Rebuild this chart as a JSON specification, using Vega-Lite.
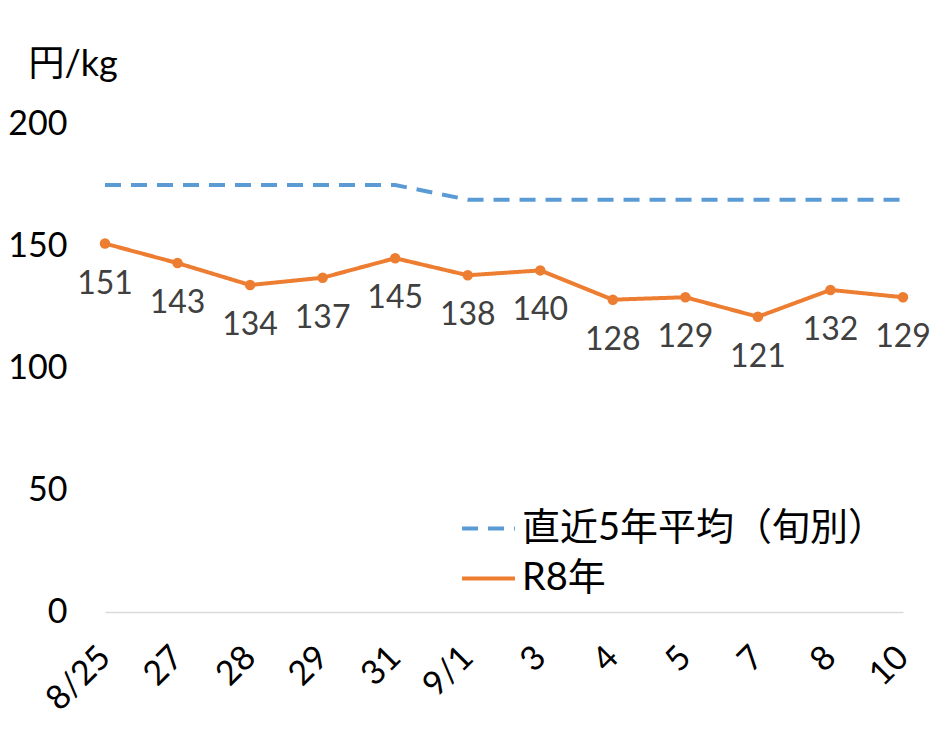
{
  "$schema": "https://vega.github.io/schema/vega-lite/v6.json",
  "autosize": "none",
  "width": 798,
  "height": 488,
  "padding": {"left": 105, "top": 124, "right": 46, "bottom": 124},
  "background": "white",
  "data": {
    "values": [
      {"date": "8/25", "series": "直近5年平均（旬別）", "value": 175},
      {"date": "27", "series": "直近5年平均（旬別）", "value": 175},
      {"date": "28", "series": "直近5年平均（旬別）", "value": 175},
      {"date": "29", "series": "直近5年平均（旬別）", "value": 175},
      {"date": "31", "series": "直近5年平均（旬別）", "value": 175},
      {"date": "9/1", "series": "直近5年平均（旬別）", "value": 169},
      {"date": "3", "series": "直近5年平均（旬別）", "value": 169},
      {"date": "4", "series": "直近5年平均（旬別）", "value": 169},
      {"date": "5", "series": "直近5年平均（旬別）", "value": 169},
      {"date": "7", "series": "直近5年平均（旬別）", "value": 169},
      {"date": "8", "series": "直近5年平均（旬別）", "value": 169},
      {"date": "10", "series": "直近5年平均（旬別）", "value": 169},
      {"date": "8/25", "series": "R8年", "value": 151},
      {"date": "27", "series": "R8年", "value": 143},
      {"date": "28", "series": "R8年", "value": 134},
      {"date": "29", "series": "R8年", "value": 137},
      {"date": "31", "series": "R8年", "value": 145},
      {"date": "9/1", "series": "R8年", "value": 138},
      {"date": "3", "series": "R8年", "value": 140},
      {"date": "4", "series": "R8年", "value": 128},
      {"date": "5", "series": "R8年", "value": 129},
      {"date": "7", "series": "R8年", "value": 121},
      {"date": "8", "series": "R8年", "value": 132},
      {"date": "10", "series": "R8年", "value": 129}
    ]
  },
  "encoding": {
    "x": {
      "field": "date",
      "type": "ordinal",
      "sort": null,
      "scale": {"type": "point", "padding": 0},
      "axis": {
        "title": null,
        "labelAngle": -45,
        "labelAlign": "right",
        "labelBaseline": "middle",
        "labelPadding": 40,
        "labelFontSize": 34,
        "labelColor": "#000000",
        "ticks": false,
        "domainColor": "#D9D9D9",
        "domainWidth": 1.5
      }
    },
    "y": {
      "field": "value",
      "type": "quantitative",
      "scale": {"domain": [0, 200]},
      "axis": {
        "values": [0, 50, 100, 150, 200],
        "title": "円/kg",
        "titleAngle": 0,
        "titleX": -77,
        "titleY": -60,
        "titleAlign": "left",
        "titleBaseline": "middle",
        "titleFontSize": 36,
        "titleFontWeight": "normal",
        "titleColor": "#000000",
        "labelFontSize": 34,
        "labelColor": "#000000",
        "labelPadding": 38,
        "ticks": false,
        "domain": false,
        "grid": false
      }
    }
  },
  "layer": [
    {
      "mark": {"type": "line", "strokeWidth": 4},
      "encoding": {
        "color": {
          "field": "series",
          "type": "nominal",
          "sort": ["直近5年平均（旬別）", "R8年"],
          "scale": {"domain": ["直近5年平均（旬別）", "R8年"], "range": ["#5B9BD5", "#ED7D31"]},
          "legend": {
            "title": null,
            "orient": "none",
            "legendX": 355,
            "legendY": 376,
            "symbolType": "stroke",
            "symbolSize": 2800,
            "symbolStrokeWidth": 4,
            "labelFontSize": 38,
            "labelColor": "#000000",
            "labelLimit": 500,
            "rowPadding": 2,
            "labelOffset": 5
          }
        },
        "strokeDash": {
          "field": "series",
          "type": "nominal",
          "sort": ["直近5年平均（旬別）", "R8年"],
          "scale": {"domain": ["直近5年平均（旬別）", "R8年"], "range": [[16, 10], [1, 0]]},
          "legend": null
        }
      }
    },
    {
      "transform": [{"filter": "datum.series == 'R8年'"}],
      "mark": {"type": "circle", "size": 110, "color": "#ED7D31", "opacity": 1},
      "encoding": {}
    },
    {
      "transform": [{"filter": "datum.series == 'R8年'"}],
      "mark": {"type": "text", "baseline": "top", "dy": 25, "fontSize": 32, "color": "#404040"},
      "encoding": {"text": {"field": "value", "type": "quantitative"}}
    }
  ],
  "config": {
    "font": "Lato, Noto Sans CJK JP",
    "view": {"stroke": null}
  }
}
